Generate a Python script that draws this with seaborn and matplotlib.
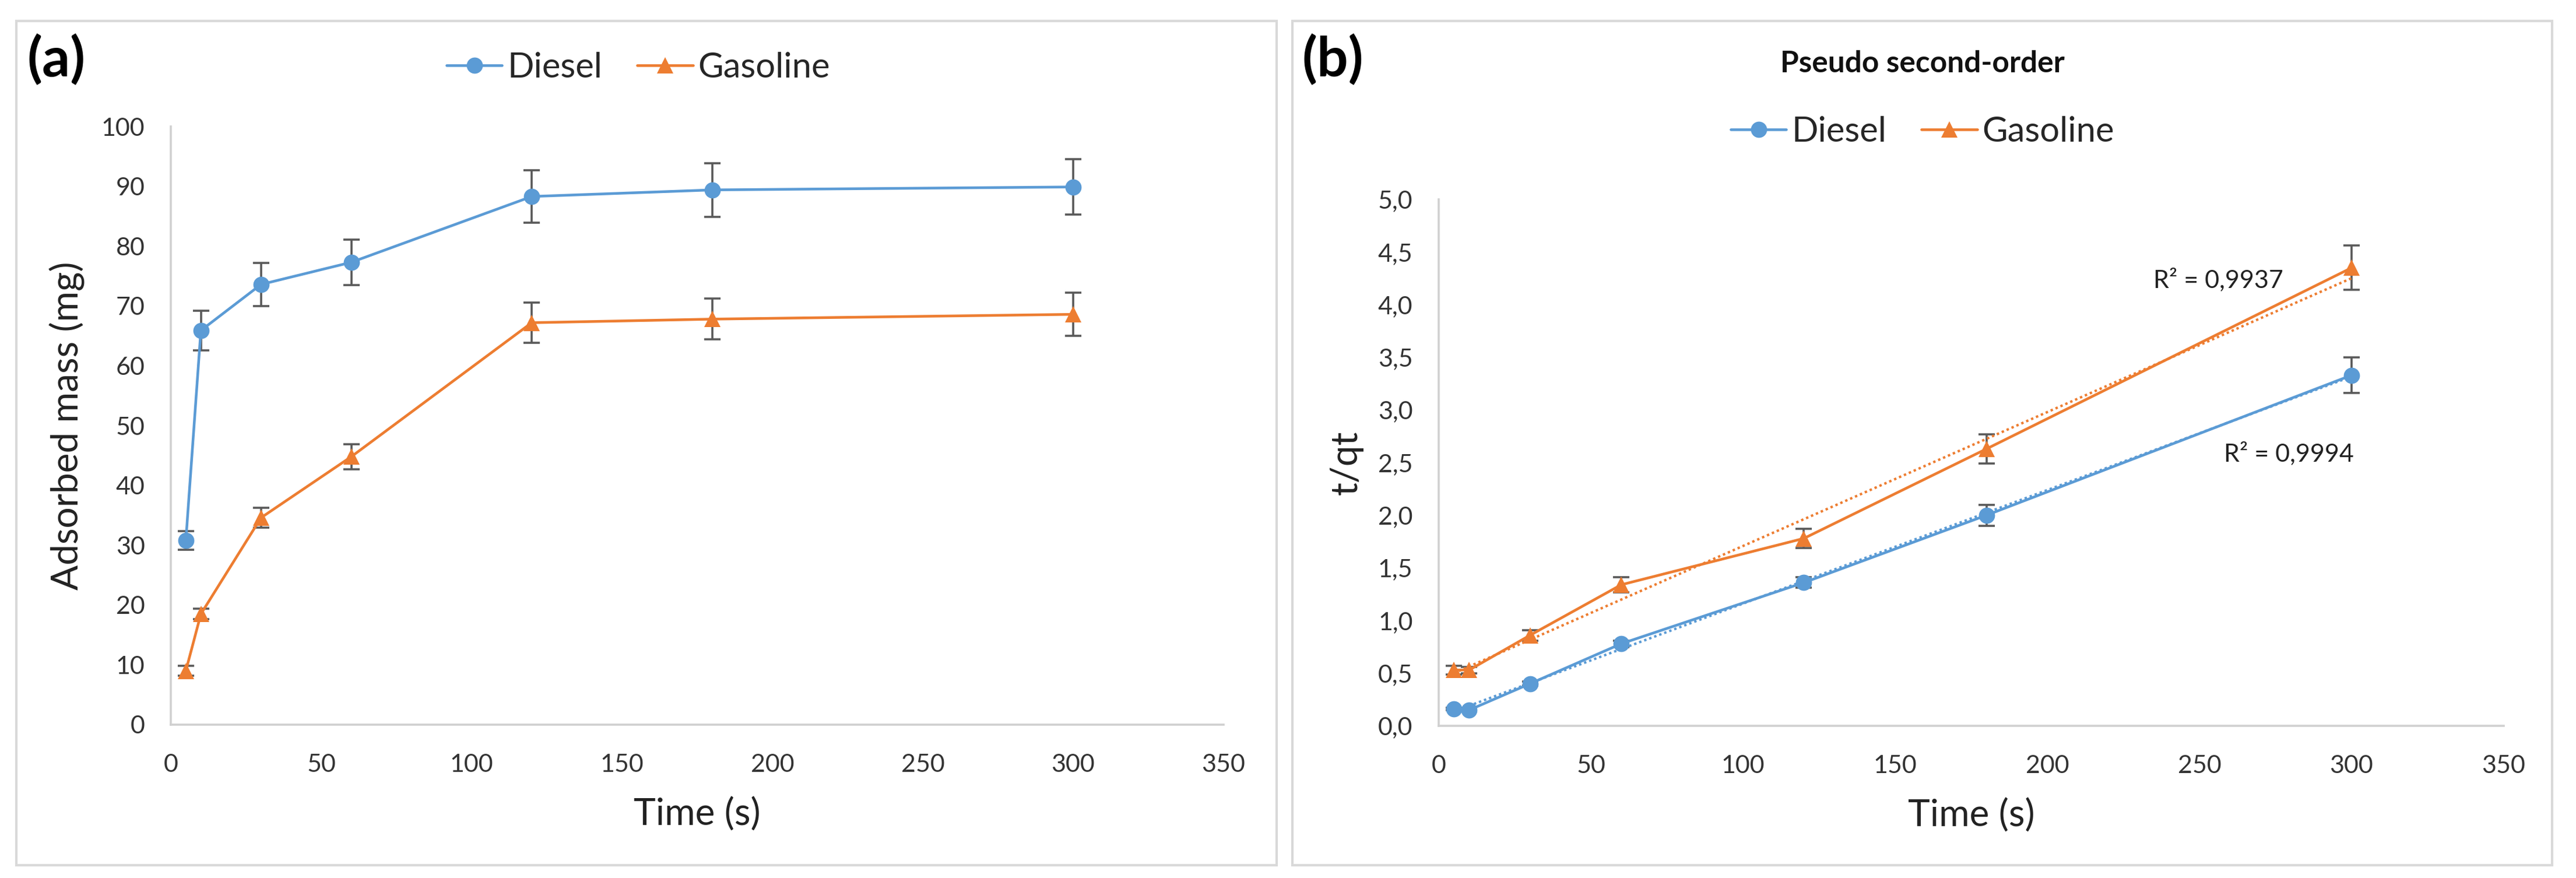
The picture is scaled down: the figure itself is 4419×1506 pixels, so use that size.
import numpy as np
import pandas as pd
import matplotlib
matplotlib.use("Agg")
import matplotlib.pyplot as plt
from matplotlib.patches import Rectangle
from matplotlib.ticker import FuncFormatter, MultipleLocator
import seaborn as sns

# ---------------- data ----------------
time_s = [5, 10, 30, 60, 120, 180, 300]
fuels = ["Diesel", "Gasoline"]

diesel_mass = [30.8, 65.9, 73.6, 77.3, 88.3, 89.4, 89.9]
diesel_mass_err = [1.6, 3.3, 3.6, 3.8, 4.4, 4.5, 4.6]
gasoline_mass = [9.0, 18.5, 34.6, 44.8, 67.2, 67.8, 68.6]
gasoline_mass_err = [0.8, 0.9, 1.7, 2.1, 3.4, 3.4, 3.6]

diesel_tqt = [0.16, 0.15, 0.40, 0.78, 1.36, 2.00, 3.33]
diesel_tqt_err = [0.01, 0.01, 0.02, 0.03, 0.05, 0.10, 0.17]
gasoline_tqt = [0.53, 0.53, 0.86, 1.34, 1.78, 2.63, 4.35]
gasoline_tqt_err = [0.04, 0.03, 0.05, 0.07, 0.09, 0.14, 0.21]

r2_labels = ["R² = 0,9994", "R² = 0,9937"]

# ---------------- style ----------------
sns.set_theme(style="white")
FONT = ["Lato", "DejaVu Sans"]
plt.rcParams["font.family"] = FONT

BLUE = "#5B9BD5"
ORANGE = "#ED7D31"
ERRC = "#595959"
AXC = "#D0D0D0"
palette = {"Diesel": BLUE, "Gasoline": ORANGE}
markers = {"Diesel": "o", "Gasoline": "^"}

W, H = 4419, 1506
DPI = 100
fig = plt.figure(figsize=(W / DPI, H / DPI), dpi=DPI)
fig.patch.set_facecolor("white")

def fx(px):
    return px / W

def fy(py):
    return 1 - py / H

# panel frames
for x0, x1 in [(28, 2190), (2217, 4378)]:
    fig.patches.append(Rectangle((fx(x0), fy(1484)), fx(x1 - x0), (1484 - 36) / H,
                                 transform=fig.transFigure, fill=False,
                                 edgecolor="#D9D9D9", linewidth=3.0, zorder=0))

ax_a = fig.add_axes([fx(293), fy(1243), fx(2099 - 293), (1243 - 217) / H])
ax_b = fig.add_axes([fx(2468), fy(1245), fx(4295 - 2468), (1245 - 342) / H])

TICK_FS = 31
LAB_FS = 46
LEG_FS = 43


def draw(ax, dvals, derr, gvals, gerr):
    df = pd.DataFrame({
        "t": time_s * 2,
        "v": dvals + gvals,
        "fuel": ["Diesel"] * len(time_s) + ["Gasoline"] * len(time_s),
    })
    for vals, err in [(dvals, derr), (gvals, gerr)]:
        ax.errorbar(time_s, vals, yerr=err, fmt="none", ecolor=ERRC,
                    elinewidth=2.6, capsize=10, capthick=2.6, zorder=2)
    sns.lineplot(data=df, x="t", y="v", hue="fuel", style="fuel",
                 palette=palette, markers=markers, dashes=False,
                 linewidth=3.3, markersize=20, markeredgewidth=0,
                 ax=ax, zorder=3, legend=True)
    ax.set_xlim(0, 350)
    ax.xaxis.set_major_locator(MultipleLocator(50))
    for s in ["top", "right"]:
        ax.spines[s].set_visible(False)
    for s in ["left", "bottom"]:
        ax.spines[s].set_color(AXC)
        ax.spines[s].set_linewidth(2.6)
    ax.tick_params(axis="both", length=0, labelsize=TICK_FS, colors="#333333")
    ax.tick_params(axis="y", pad=32)
    ax.tick_params(axis="x", pad=36)
    ax.grid(False)
    ax.set_xlabel("Time (s)", fontsize=LAB_FS, color="#222222", labelpad=26)
    handles, labels = ax.get_legend_handles_labels()
    ax.get_legend().remove()
    return handles, labels


h, l = draw(ax_a, diesel_mass, diesel_mass_err, gasoline_mass, gasoline_mass_err)
ax_a.set_ylim(0, 100)
ax_a.yaxis.set_major_locator(MultipleLocator(10))
ax_a.set_ylabel("Adsorbed mass (mg)", fontsize=LAB_FS, color="#222222", labelpad=20)
fig.legend(h, l, loc="center", bbox_to_anchor=(fx(1095), fy(116)), ncol=2,
           frameon=False, fontsize=LEG_FS, handlelength=1.6, handletextpad=0.15,
           columnspacing=1.0)

h, l = draw(ax_b, diesel_tqt, diesel_tqt_err, gasoline_tqt, gasoline_tqt_err)
# linear trend lines
for vals, col in [(diesel_tqt, BLUE), (gasoline_tqt, ORANGE)]:
    sns.regplot(x=np.array(time_s), y=np.array(vals), ci=None, scatter=False,
                ax=ax_b, truncate=True,
                line_kws=dict(color=col, linestyle=(0, (1, 1.2)), linewidth=3.0, zorder=2.5))
ax_b.set_ylim(0, 5)
ax_b.yaxis.set_major_locator(MultipleLocator(0.5))
ax_b.yaxis.set_major_formatter(FuncFormatter(lambda v, p: f"{v:.1f}".replace(".", ",")))
ax_b.set_xlabel("Time (s)", fontsize=LAB_FS, color="#222222", labelpad=26)
ax_b.set_ylabel("t/qt", fontsize=LAB_FS, color="#222222", labelpad=18)
fig.legend(h, l, loc="center", bbox_to_anchor=(fx(3298), fy(226)), ncol=2,
           frameon=False, fontsize=LEG_FS, handlelength=1.6, handletextpad=0.15,
           columnspacing=1.0)
fig.text(fx(3298), fy(110), "Pseudo second-order", ha="center", va="center",
         fontsize=37, fontweight="bold", color="#111111")

ax_b.text(0.798, 0.517, r2_labels[0], transform=ax_b.transAxes, ha="center",
          va="center", fontsize=31, color="#222222")
ax_b.text(0.732, 0.847, r2_labels[1], transform=ax_b.transAxes, ha="center",
          va="center", fontsize=31, color="#222222")

# panel letters
fig.text(fx(46), fy(103), "(a)", ha="left", va="center", fontsize=68,
         fontweight="bold", color="black")
fig.text(fx(2234), fy(103), "(b)", ha="left", va="center", fontsize=68,
         fontweight="bold", color="black")

fig.savefig("out.png", dpi=DPI, facecolor="white")
